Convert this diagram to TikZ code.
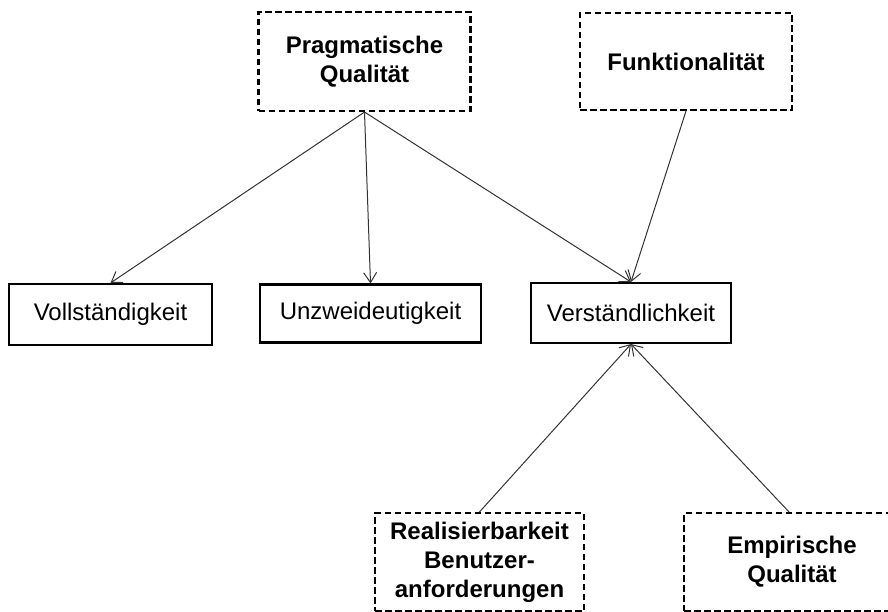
\documentclass[tikz,border=0pt]{standalone}
\usepackage{fontspec}
\setmainfont{Liberation Sans}
\usetikzlibrary{arrows.meta}
\begin{document}
\begin{tikzpicture}[x=1pt,y=-1pt,
  solidbox/.style={draw=black,line width=2.1pt,inner sep=0pt,align=center,
    font=\fontsize{24}{30}\selectfont},
  dashbox/.style={draw=black,line width=2.1pt,dash pattern=on 6.5pt off 3.5pt,inner sep=0pt,align=center,
    font=\bfseries\fontsize{24}{29}\selectfont},
  conn/.style={draw=black!80,line width=1pt,-{Straight Barb[length=10pt,width=13pt,line width=1pt]}}]
\useasboundingbox (0,0) rectangle (888,612);
\clip (0,0) rectangle (888,612);
\node[dashbox,minimum width=212pt,minimum height=99pt] (prag) at (364.5,61.5) {Pragmatische\\Qualität};
\node[dashbox,minimum width=212pt,minimum height=97pt] (funk) at (686,61.5) {Funktionalität};
\node[solidbox,minimum width=203pt,minimum height=61pt] (voll) at (110.5,314.5) {Vollständigkeit};
\node[solidbox,minimum width=221pt,minimum height=58pt] (unz) at (370.5,313.5) {Unzweideutigkeit};
\node[solidbox,minimum width=200pt,minimum height=60pt] (vers) at (631,313) {Verständlichkeit};
\node[dashbox,minimum width=209pt,minimum height=98pt] (real) at (479.5,562) {Realisierbarkeit\\Benutzer-\\anforderungen};
\node[dashbox,minimum width=260pt,minimum height=98pt] (emp) at (814,562) {Empirische\hspace*{44pt}\\Qualität\hspace*{44pt}};
\draw[conn] (prag.south) -- (voll.north);
\draw[conn] (prag.south) -- (unz.north);
\draw[conn] (prag.south) -- (vers.north);
\draw[conn] (funk.south) -- (vers.north);
\draw[conn] (real.north) -- (vers.south);
\draw[conn] ([xshift=-25pt]emp.north) -- (vers.south);
\end{tikzpicture}
\end{document}
